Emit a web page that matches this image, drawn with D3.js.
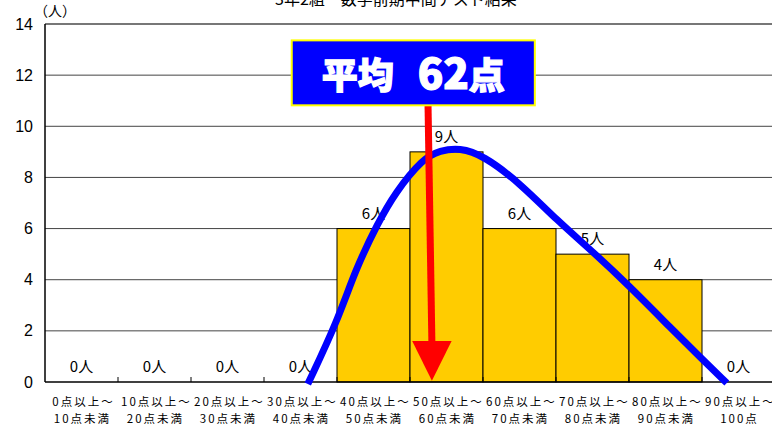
<!DOCTYPE html>
<html>
<head>
<meta charset="utf-8">
<script src="https://cdn.jsdelivr.net/npm/d3@7"></script>
<style>
  body { margin: 0; background: #fff; }
  svg { display: block; font-family: "Noto Sans CJK JP", "Noto Sans", sans-serif; }
</style>
</head>
<body>
<div id="chart"></div>
<script>
// score ranges (two line labels)
const rangeFrom = ['0点以上～', '10点以上～', '20点以上～', '30点以上～', '40点以上～',
  '50点以上～', '60点以上～', '70点以上～', '80点以上～', '90点以上～'];
const rangeTo = ['10点未満', '20点未満', '30点未満', '40点未満', '50点未満',
  '60点未満', '70点未満', '80点未満', '90点未満', '100点'];
const counts = [0, 0, 0, 0, 6, 9, 6, 5, 4, 0];
const yTicks = [0, 2, 4, 6, 8, 10, 12, 14];

// hand drawn distribution curve (score, people)
const curveScores = [36.0, 40, 42.6, 45.6, 47.9, 51.8, 54.1, 56.8, 60, 65.1, 70.1, 75.1, 79.9, 86.0, 89.7, 93.4];
const curveValues = [-0.08, 2.34, 4.45, 6.21, 7.38, 8.75, 9.05, 9.16, 8.87, 7.77, 6.33, 5.08, 3.79, 2.03, 0.98, -0.04];

const title = '3年2組　数学前期中間テスト結果';
const meanScore = 62;

const width = 772, height = 426;
const margin = { top: 24, right: -3, bottom: 44, left: 45 };
const plotW = width - margin.left - margin.right;
const plotH = height - margin.top - margin.bottom;

const svg = d3.select('#chart').append('svg')
  .attr('width', width)
  .attr('height', height);

const g = svg.append('g')
  .attr('transform', 'translate(' + margin.left + ',' + margin.top + ')');

const x = d3.scaleBand()
  .domain(d3.range(counts.length))
  .range([0, plotW])
  .padding(0);

const xScore = d3.scaleLinear().domain([0, 100]).range([0, plotW]);

const y = d3.scaleLinear().domain([0, 14]).range([plotH, 0]);

// gridlines
g.selectAll('line.grid')
  .data(yTicks.filter(d => d > 0))
  .enter().append('line')
  .attr('class', 'grid')
  .attr('x1', 0).attr('x2', plotW)
  .attr('y1', d => y(d)).attr('y2', d => y(d))
  .attr('stroke', d => d === 14 ? '#777' : '#444')
  .attr('stroke-width', d => d === 14 ? 2 : 1);

// y axis labels
const yAxis = d3.axisLeft(y).tickValues(yTicks).tickSize(0).tickPadding(12);
g.append('g')
  .call(yAxis)
  .call(s => s.select('.domain').remove())
  .selectAll('text')
  .attr('font-family', 'Liberation Sans, Arial, sans-serif')
  .attr('font-size', 16)
  .attr('fill', '#000');

g.append('text')
  .attr('x', -11).attr('y', -8)
  .attr('font-size', 14)
  .text('（人）');

// bars
g.selectAll('rect.bar')
  .data(counts)
  .enter().append('rect')
  .attr('class', 'bar')
  .attr('x', (d, i) => x(i))
  .attr('width', x.bandwidth())
  .attr('y', d => y(d))
  .attr('height', d => plotH - y(d))
  .attr('fill', '#FFCC00')
  .attr('stroke', '#000')
  .attr('stroke-width', 1);

// axis lines
g.append('line')
  .attr('x1', 0).attr('x2', 0).attr('y1', 0).attr('y2', plotH)
  .attr('stroke', '#000').attr('stroke-width', 1.5);
g.append('line')
  .attr('x1', 0).attr('x2', plotW).attr('y1', plotH).attr('y2', plotH)
  .attr('stroke', '#000').attr('stroke-width', 1.5);

// inner tick marks on category boundaries
g.selectAll('line.xtick')
  .data(d3.range(1, counts.length))
  .enter().append('line')
  .attr('x1', d => x(d)).attr('x2', d => x(d))
  .attr('y1', plotH - 5).attr('y2', plotH)
  .attr('stroke', '#000');

// value labels
g.selectAll('text.val')
  .data(counts)
  .enter().append('text')
  .attr('class', 'val')
  .attr('x', (d, i) => x(i) + x.bandwidth() / 2)
  .attr('y', d => y(d) - 10)
  .attr('text-anchor', 'middle')
  .attr('font-size', 15)
  .text(d => d + '人');

// category labels
const xl = g.selectAll('text.cat')
  .data(counts.map((d, i) => i))
  .enter().append('text')
  .attr('class', 'cat')
  .attr('y', plotH + 24)
  .attr('text-anchor', 'middle')
  .attr('font-size', 11.5)
  .attr('letter-spacing', 2);
xl.append('tspan').attr('x', i => x(i) + x.bandwidth() / 2 + 2).text(i => rangeFrom[i]);
xl.append('tspan').attr('x', i => x(i) + x.bandwidth() / 2 + 1).attr('dy', 17).text(i => rangeTo[i]);

// blue curve
const curvePts = curveScores.map((s, i) => [s, curveValues[i]]);
const line = d3.line()
  .x(d => xScore(d[0]))
  .y(d => y(d[1]))
  .curve(d3.curveBasis);
g.append('path')
  .datum(curvePts)
  .attr('d', line)
  .attr('fill', 'none')
  .attr('stroke', '#0000FF')
  .attr('stroke-width', 7);

// red arrow
const arrowTop = [52.47, 10.82];
const arrowBase = [53.0, 1.6];
const arrowTip = [53.0, 0.05];
const arrowHalf = 2.7; // half width of head, in score units
g.append('line')
  .attr('x1', xScore(arrowTop[0])).attr('y1', y(arrowTop[1]))
  .attr('x2', xScore(arrowBase[0])).attr('y2', y(arrowBase[1]) + 2)
  .attr('stroke', '#FF0000').attr('stroke-width', 7);
g.append('path')
  .attr('d', d3.line()([
    [xScore(arrowBase[0] - arrowHalf), y(arrowBase[1])],
    [xScore(arrowBase[0] + arrowHalf), y(arrowBase[1])],
    [xScore(arrowTip[0]), y(arrowTip[1])]
  ]) + 'Z')
  .attr('fill', '#FF0000');

// mean box
const boxScore = [33.8, 67.1];
const boxVal = [13.36, 10.82];
g.append('rect')
  .attr('x', xScore(boxScore[0]))
  .attr('y', y(boxVal[0]))
  .attr('width', xScore(boxScore[1]) - xScore(boxScore[0]))
  .attr('height', y(boxVal[1]) - y(boxVal[0]))
  .attr('fill', '#0000FF')
  .attr('stroke', '#FFFF00')
  .attr('stroke-width', 2);
const boxText = g.append('text')
  .attr('x', xScore((boxScore[0] + boxScore[1]) / 2))
  .attr('y', y(boxVal[1]) - 16)
  .attr('text-anchor', 'middle')
  .attr('font-size', 36)
  .attr('font-weight', 900)
  .attr('fill', '#fff')
  .attr('stroke', '#fff')
  .attr('stroke-width', 1.2);
boxText.append('tspan').text('平均');
boxText.append('tspan').attr('dx', 24).attr('font-size', 42).text(meanScore);
boxText.append('tspan').text('点');

// title (cut off at top)
svg.append('text')
  .attr('x', 396).attr('y', 5)
  .attr('text-anchor', 'middle')
  .attr('font-size', 16)
  .text(title);
</script>
</body>
</html>
